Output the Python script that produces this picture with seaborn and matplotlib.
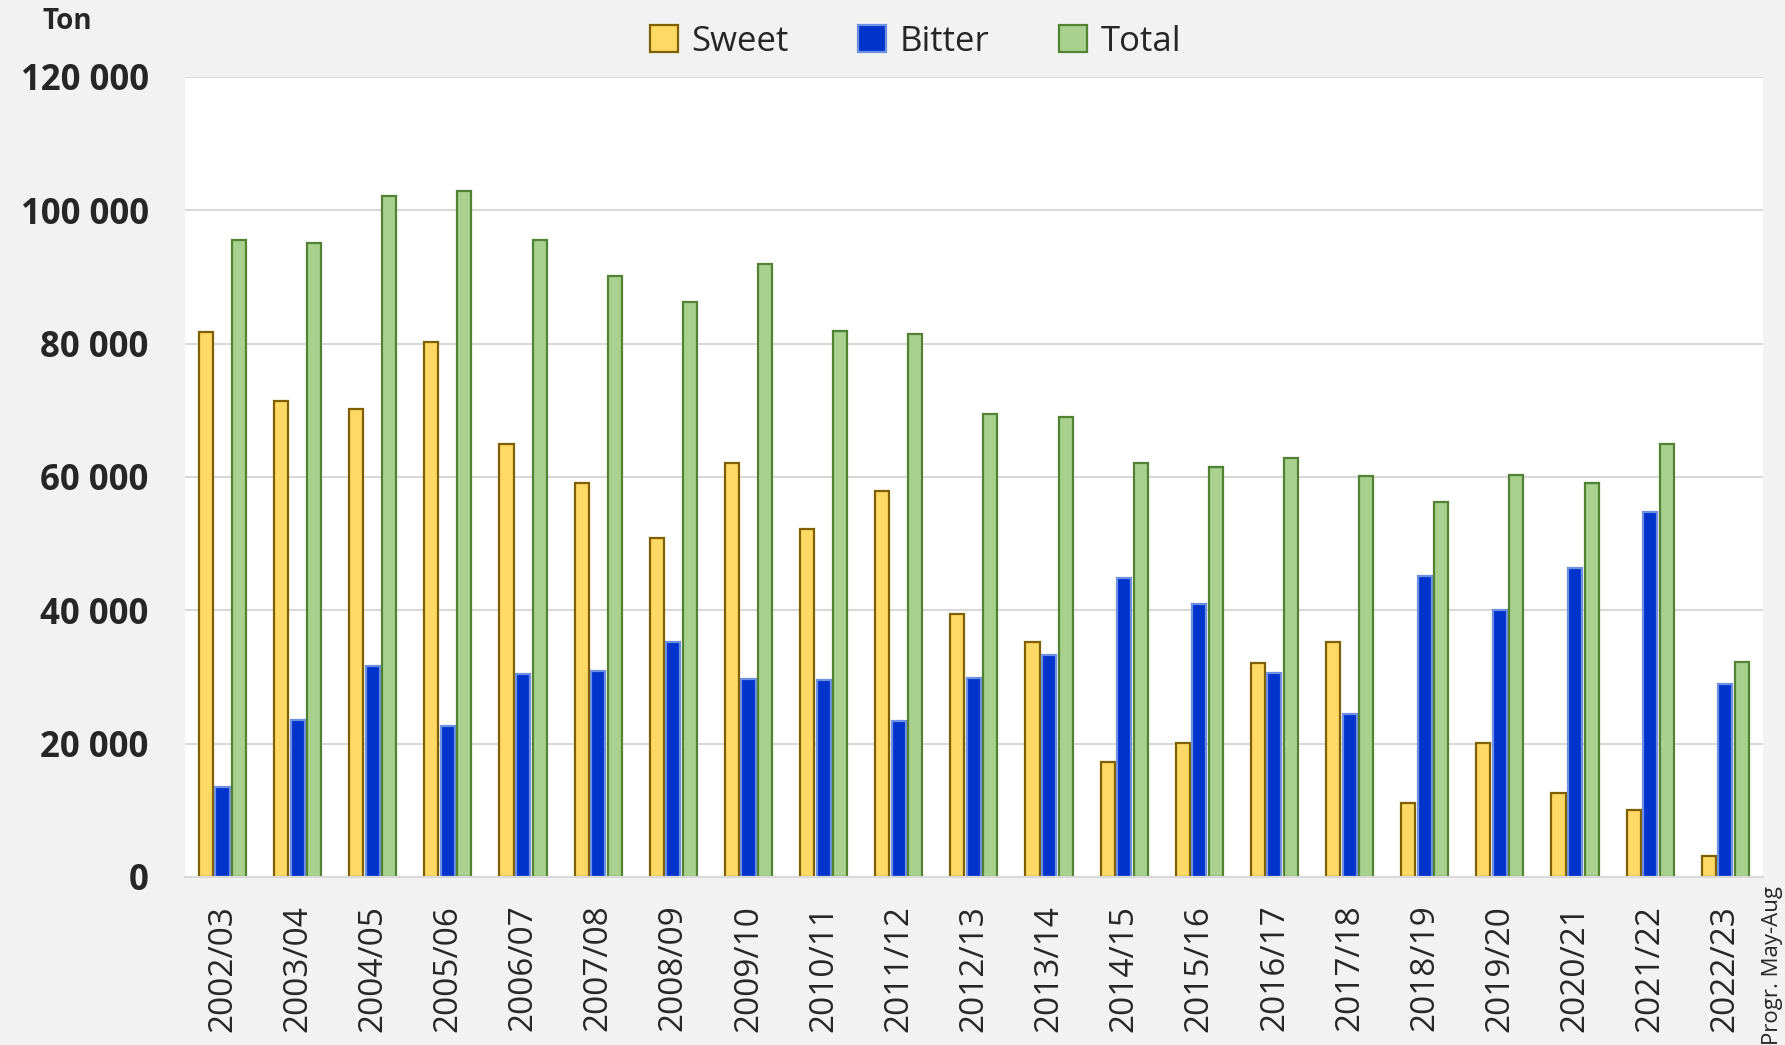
import pandas as pd
import seaborn as sns
import matplotlib.pyplot as plt
from matplotlib.patches import Patch
from matplotlib.ticker import FuncFormatter

# Season labels and tonnage per series
seasons = ['2002/03', '2003/04', '2004/05', '2005/06', '2006/07', '2007/08', '2008/09',
           '2009/10', '2010/11', '2011/12', '2012/13', '2013/14', '2014/15', '2015/16',
           '2016/17', '2017/18', '2018/19', '2019/20', '2020/21', '2021/22', '2022/23']
sweet = [81800, 71400, 70200, 80200, 65000, 59100, 50900, 62100, 52200, 57900, 39400,
         35300, 17200, 20100, 32100, 35300, 11100, 20100, 12600, 10100, 3100]
bitter = [13500, 23600, 31600, 22700, 30400, 30900, 35300, 29700, 29500, 23400, 29900,
          33300, 44900, 41000, 30600, 24400, 45100, 40100, 46400, 54800, 29000]
total = [95600, 95100, 102100, 102900, 95600, 90100, 86200, 92000, 81900, 81400, 69500,
         69000, 62100, 61500, 62800, 60100, 56300, 60300, 59100, 65000, 32300]

series = ['Sweet', 'Bitter', 'Total']
fills = ['#ffd966', '#0033cc', '#a9d18e']
edges = ['#7f6000', '#6f8fe0', '#548235']

df = pd.DataFrame({'season': seasons, 'Sweet': sweet, 'Bitter': bitter, 'Total': total})
df_long = df.melt(id_vars='season', var_name='type', value_name='ton')

sns.set_style('white')
plt.rcParams['font.family'] = ['Open Sans', 'DejaVu Sans']

fig = plt.figure(figsize=(17.85, 10.45), dpi=100, facecolor='#f2f2f2')
ax = fig.add_axes([0.1036, 0.1608, 0.884, 0.7656])
ax.set_facecolor('white')

sns.barplot(data=df_long, x='season', y='ton', hue='type', hue_order=series,
            palette=fills, saturation=1, width=0.66, gap=0.15, dodge=True,
            legend=False, ax=ax)

for cont, ec in zip(ax.containers, edges):
    for bar in cont:
        bar.set_edgecolor(ec)
        bar.set_linewidth(1.6)

ax.set_ylim(0, 120000)
ax.set_xlim(-0.5, len(seasons) - 0.5)
ax.set_yticks(range(0, 120001, 20000))
ax.yaxis.set_major_formatter(FuncFormatter(lambda v, p: f'{int(v):,}'.replace(',', ' ')))
ax.grid(axis='y', color='#d9d9d9', linewidth=1.5)
ax.set_axisbelow(True)
for s in ['top', 'right', 'left']:
    ax.spines[s].set_visible(False)
ax.spines['bottom'].set_color('#d9d9d9')
ax.spines['bottom'].set_linewidth(1.5)
ax.tick_params(axis='both', length=0)
ax.tick_params(axis='y', labelsize=25, pad=26)
for lab in ax.get_yticklabels():
    lab.set_fontweight('bold')
ax.tick_params(axis='x', labelsize=24, rotation=90, pad=20)
ax.set_xlabel('')
ax.set_ylabel('')

fig.text(0.024, 0.979, 'Ton', fontsize=20, fontweight='bold', va='center', ha='left')
fig.text(0.999, 0.0, 'Progr. May-Aug', fontsize=16, rotation=90, va='bottom', ha='right')

handles = [Patch(facecolor=f, edgecolor=e, linewidth=1.6, label=s)
           for s, f, e in zip(series, fills, edges)]
fig.legend(handles=handles, loc='center', bbox_to_anchor=(0.513, 0.96), ncol=3,
           frameon=False, fontsize=25, handlelength=0.8, handleheight=0.8,
           handletextpad=0.4, columnspacing=2.0)

fig.savefig('out.png', dpi=100, facecolor=fig.get_facecolor())
